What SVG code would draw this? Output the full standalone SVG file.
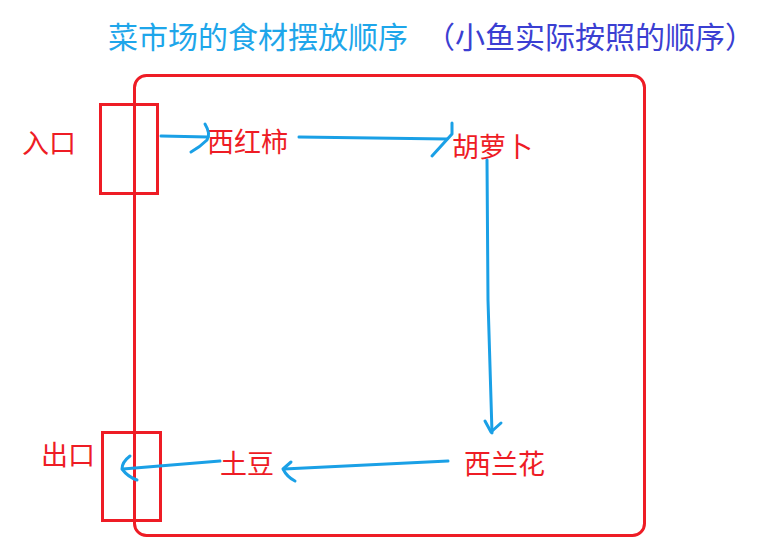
<svg xmlns="http://www.w3.org/2000/svg" width="763" height="550" viewBox="0 0 763 550">
<style>
.box{fill:none;stroke:#ee1c25;stroke-width:3}
.lbl{font-family:"Noto Sans CJK SC","Noto Sans CJK JP",sans-serif;fill:#ee1c25;font-size:27px}
.conn path{fill:none;stroke:#1aa0e6;stroke-width:3;stroke-linecap:round;stroke-linejoin:round}
.t1{font-family:"Noto Sans CJK SC",sans-serif;font-size:30px;fill:#1ea6ea}
.t2{fill:#3b3fd2}
</style>
<rect width="763" height="550" fill="#ffffff"/>
<g id="title"><text class="t1" x="108" y="48">菜市场的食材摆放顺序<tspan class="t2" x="425">（小鱼实际按照的顺序）</tspan></text></g>
<g id="market"><rect class="box" x="134.5" y="75.5" width="510" height="460" rx="12"/></g>
<g id="entrance"><rect class="box" x="100.5" y="104.5" width="57" height="89"/><text class="lbl" x="22" y="153" font-size="28">入口</text></g>
<g id="exit"><rect class="box" x="102.5" y="432.5" width="58" height="88"/><text class="lbl" x="41" y="465" font-size="28">出口</text></g>
<g id="tomato"><text class="lbl" x="207" y="152" font-size="29">西红柿</text></g>
<g id="carrot"><text class="lbl" x="452" y="157" font-size="29">胡萝卜</text></g>
<g id="broccoli"><text class="lbl" x="464" y="474" font-size="29">西兰花</text></g>
<g id="potato"><text class="lbl" x="220" y="474" font-size="28">土豆</text></g>
<g class="conn" id="connectors">
<path d="M161 136 L208 137"/>
<path d="M205 124 Q211 134 207 140 Q200 147 191 152"/>
<path d="M299 137 L447 139"/>
<path d="M452 123 L452 134 L432 156"/>
<path d="M487 160 L488 300 L492 433"/>
<path d="M485 421 L491 432 L501 423"/>
<path d="M448 461 L284 469"/>
<path d="M291 462 L283 469 Q287 477 295 481"/>
<path d="M220 461 L123 469"/>
<path d="M130 456 Q122 462 122 469 Q128 477 137 480"/>
</g>
</svg>
